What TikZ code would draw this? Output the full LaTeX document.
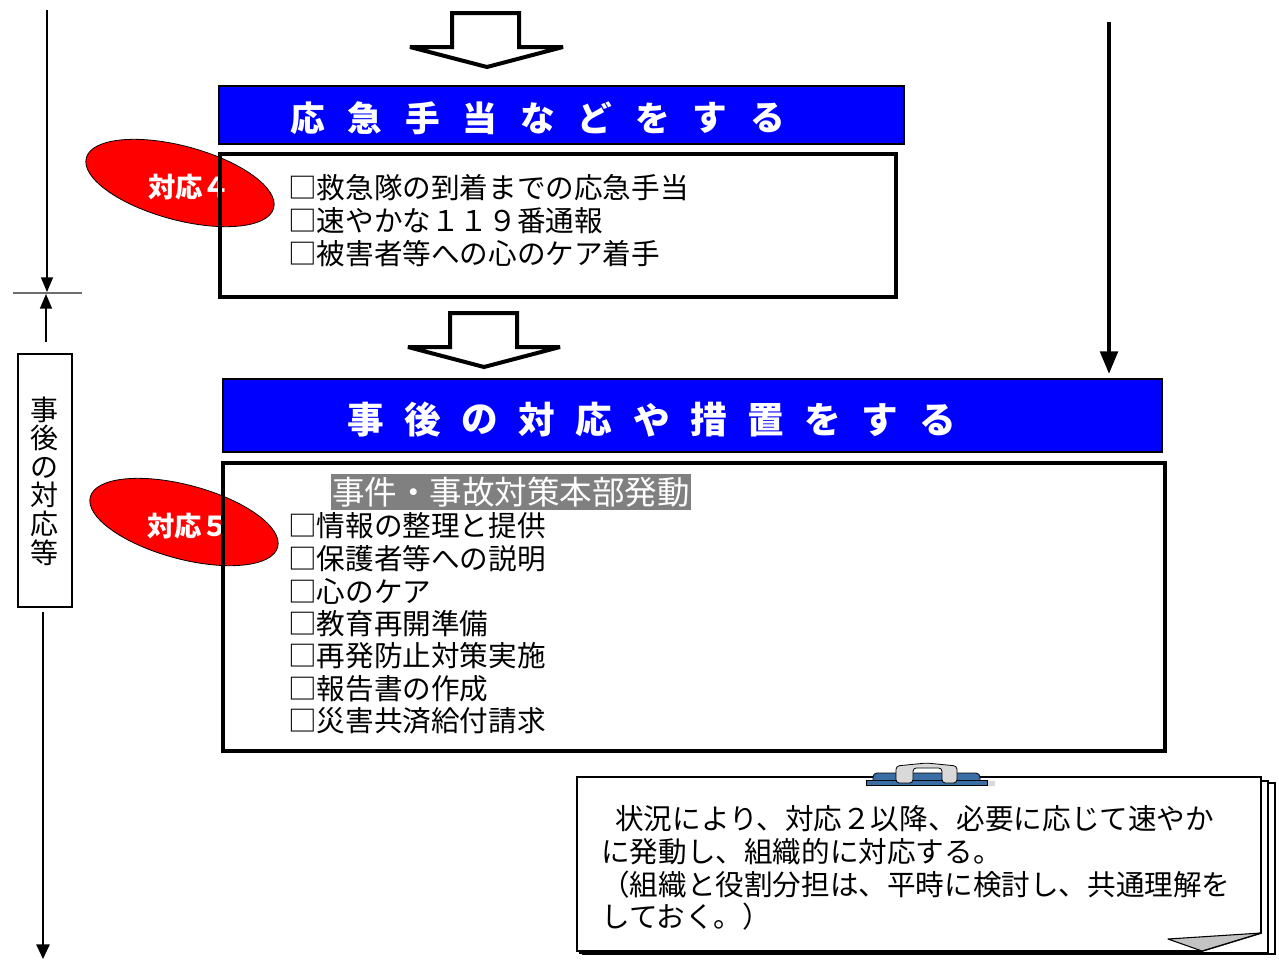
\documentclass[tikz,border=0pt]{standalone}
\usepackage{fontspec}
\setmainfont{Noto Sans CJK JP}
\usetikzlibrary{arrows.meta,shapes.geometric,fit}
\definecolor{titleblue}{RGB}{0,0,255}
\definecolor{ovalred}{RGB}{255,0,0}
\definecolor{hlgray}{RGB}{128,128,128}
\definecolor{clipblue}{RGB}{58,110,165}
\definecolor{clipgray}{RGB}{217,217,217}
\definecolor{foldgray}{RGB}{195,195,195}
\definecolor{tickgray}{RGB}{110,110,110}
\newcommand{\chk}{\makebox[1em][c]{□}}
\begin{document}
\begin{tikzpicture}[x=0.75pt,y=-0.75pt,
  hollow/.style={draw=black,line width=3pt,fill=white,line join=miter,miter limit=3},
  titlebar/.style={draw=black,line width=1.2pt,fill=titleblue,inner sep=0pt},
  listbox/.style={draw=black,line width=3.6pt,inner sep=0pt},
  labelbox/.style={draw=black,line width=1.9pt,inner sep=0pt},
  oval/.style={ellipse,draw=black,line width=0.6pt,fill=ovalred,minimum width=145.5pt,minimum height=55.5pt,rotate=-15,inner sep=0pt},
  ovaltext/.style={text=white,font=\fontsize{20.5}{24}\selectfont\bfseries,inner sep=0pt},
  titlechar/.style={text=white,font=\fontsize{26}{30}\selectfont\bfseries,inner sep=0pt},
  titlecharb/.style={text=white,font=\fontsize{27.5}{30}\selectfont\bfseries,inner sep=0pt},
  item/.style={anchor=west,inner sep=0pt,font=\fontsize{21.45}{24}\selectfont},
  hl/.style={fill=hlgray,text=white,inner xsep=0.5pt,inner ysep=0pt,minimum height=27pt,font=\fontsize{24.4}{28}\selectfont},
  vlabel/.style={align=center,inner sep=0pt,font=\fontsize{21}{21.45}\selectfont},
  axis/.style={draw=black,line width=1.1pt},
  bigarrow/.style={draw=black,line width=3.3pt,-{Triangle[length=17pt,width=13pt]}},
  page/.style={draw=black,line width=1.3pt,fill=white},
]
\useasboundingbox (0,0) rectangle (1279,965);

% hollow block arrows
\draw[hollow] (452,13) -- (519,13) -- (519,47) -- (563,47) -- (487,67) -- (410,47) -- (452,47) -- cycle;
\draw[hollow] (450,313) -- (517,313) -- (517,347) -- (560,347) -- (484,367) -- (408,347) -- (450,347) -- cycle;

% title bars
\node[titlebar, fit={(219,86)(904,144)}] (bar1) {};
\foreach \c [count=\i from 0] in {応,急,手,当,な,ど,を,す,る}
  \node[titlechar] (ta\i) at (307.5+57.5*\i,118) {\c};
\node[titlebar, fit={(223,379)(1162,452)}] (bar2) {};
\foreach \c [count=\i from 0] in {事,後,の,対,応,や,措,置,を,す,る}
  \node[titlecharb] (tb\i) at (365.5+57.2*\i,420) {\c};

% first step
\node[oval] (ov4) at (180,183) {};
\node[ovaltext] (ov4t) at (189,187) {対応４};
\node[listbox, fit={(220,154)(896,297)}] (box1) {};
\foreach \t [count=\i from 0] in {救急隊の到着までの応急手当,速やかな１１９番通報,被害者等への心のケア着手}
  \node[item] (a\i) at (288,188+33*\i) {\chk\t};

% second step
\node[oval] (ov5) at (184,522) {};
\node[ovaltext] (ov5t) at (188,526) {対応５};
\node[listbox, fit={(223,463)(1165,751)}] (box2) {};
\node[hl] (hq) at (511,492) {事件・事故対策本部発動};
\foreach \t [count=\i from 0] in {情報の整理と提供,保護者等への説明,心のケア,教育再開準備,再発防止対策実施,報告書の作成,災害共済給付請求}
  \node[item] (b\i) at (288,526+32.5*\i) {\chk\t};

% left time axis
\coordinate (axtop) at (47,10);
\coordinate (axmid) at (47,292);
\coordinate (tickl) at (13,293);
\coordinate (tickr) at (82,293);
\coordinate (upstart) at (46,342);
\coordinate (upend) at (46,294);
\coordinate (downstart) at (43,612);
\coordinate (downend) at (43,959);
\draw[axis,-{Triangle[length=11pt,width=9pt]}] (axtop) -- (axmid);
\draw[draw=tickgray,line width=1.1pt] (tickl) -- (tickr);
\draw[axis,-{Triangle[length=11pt,width=9pt]}] (upstart) -- (upend);
\node[labelbox, fit={(18,354)(72,607)}] (vbox) {};
\node[vlabel] (vl) at (45,481) {事\\後\\の\\対\\応\\等};
\draw[axis,line width=1.4pt,-{Triangle[length=11pt,width=10pt]}] (downstart) -- (downend);

% right arrow
\coordinate (rtop) at (1109,22);
\coordinate (rend) at (1109,374);
\draw[bigarrow] (rtop) -- (rend);

% note paper
\draw[page] (583,783) rectangle (1275,954);
\draw[page] (580,781) rectangle (1268,953);
\draw[page] (577,777) -- (1261,777) -- (1261,933) -- (1202,951) -- (577,951) -- cycle;
\draw[line width=2pt] (577,951) -- (1202,951);
\filldraw[fill=foldgray,draw=black,line width=0.8pt,line join=round] (1168,939) -- (1261,933) -- (1202,951) -- cycle;
% clip
\fill[clipgray] (988,781) rectangle (995,786);
\filldraw[fill=clipblue,draw=black,line width=0.6pt] (866,780) rectangle (987,785);
\filldraw[fill=clipblue,draw=black,line width=0.6pt,rounded corners=3pt] (873,780) -- (873,773) -- (980,773) -- (980,780);
\filldraw[fill=clipgray,draw=black,line width=0.6pt,rounded corners=2.5pt] (896,783) -- (896,766) -- (926.5,763) -- (957,766) -- (957,783) -- (942,783) -- (942,768) -- (913,768) -- (913,783) -- cycle;

\node[item] (n1) at (601,819) {\hspace{10.5pt}状況により、対応２以降、必要に応じて速やか};
\node[item] (n2) at (601,852) {に発動し、組織的に対応する。};
\node[item] (n3) at (601,885) {（組織と役割分担は、平時に検討し、共通理解を};
\node[item] (n4) at (601,917) {しておく。）};
\end{tikzpicture}
\end{document}
